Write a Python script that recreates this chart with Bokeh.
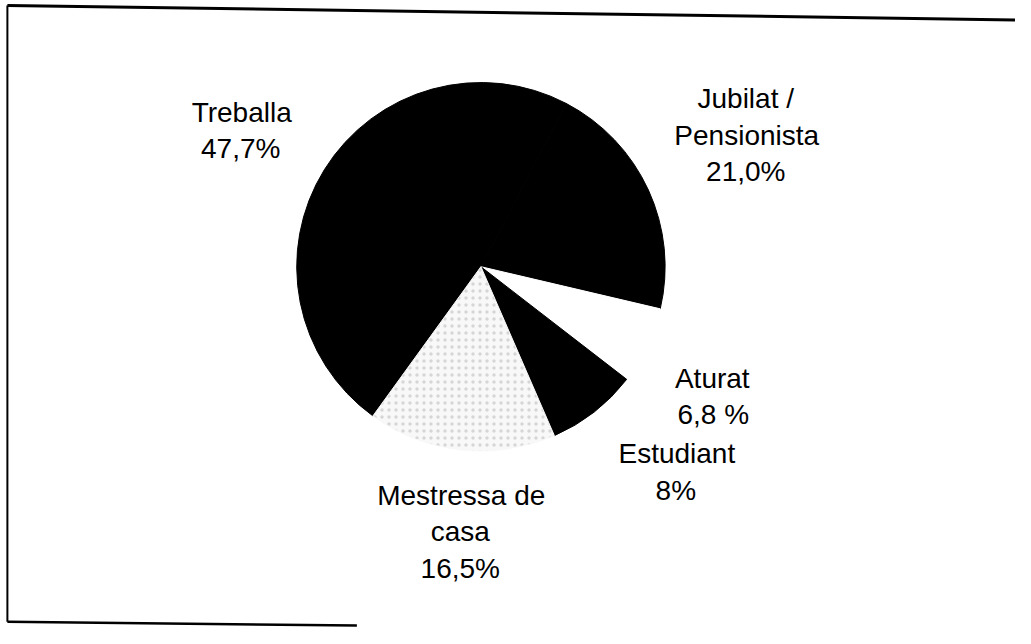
import numpy as np
from bokeh.plotting import figure
from bokeh.models import Range1d, ColumnDataSource
from bokeh.embed import file_html
from bokeh.resources import INLINE
from bokeh.core.properties import value

# ---- data ----
categories = ["Treballa", "Jubilat / Pensionista", "Aturat", "Estudiant", "Mestressa de casa"]
shares = [47.7, 21.0, 6.8, 8.0, 16.5]
label_lines = [
    ["Treballa", "47,7%"],
    ["Jubilat /", "Pensionista", "21,0%"],
    ["Aturat", "6,8 %"],
    ["Estudiant", "8%"],
    ["Mestressa de", "casa", "16,5%"],
]

# ---- style / layout (reference-image pixel geometry) ----
slice_colors = ["#000000", "#000000", "#ffffff", "#000000", "#f8f8f8"]
slice_hatch = [" ", " ", " ", " ", "."]
start_deg = 234.1          # pie starts at Treballa, drawn clockwise
pie_cx, pie_cy, pie_r = 488, 273, 188
# per label line: (center x, baseline y) in reference pixels
label_pos = [
    [(245, 115), (244, 152)],
    [(757, 101), (758, 138), (757, 175)],
    [(723, 388), (724, 425)],
    [(687, 465), (686, 502)],
    [(468, 508), (467, 545), (467, 582)],
]

W, H = 1015, 628
REF_W, REF_H = 1031, 644
sx, sy = W / REF_W, H / REF_H
def X(ix):
    return ix * sx
def Y(iy):
    return H - iy * sy

p = figure(width=W, height=H, x_range=Range1d(0, W), y_range=Range1d(0, H),
           output_backend="svg", toolbar_location=None, min_border=0)
p.axis.visible = False
p.grid.visible = False
p.outline_line_color = None
p.background_fill_color = "white"
p.border_fill_color = "white"

# ---- pie ----
vals = np.array(shares, dtype=float)
frac = vals / vals.sum()
cum = np.concatenate([[0.0], np.cumsum(frac)])
a0 = np.deg2rad(start_deg)
starts = a0 - 2 * np.pi * cum[:-1]
ends = a0 - 2 * np.pi * cum[1:]
src = ColumnDataSource(dict(
    cat=categories, start=starts, end=ends,
    x=[X(pie_cx)] * len(vals), y=[Y(pie_cy)] * len(vals),
    color=slice_colors, hatch=slice_hatch,
))
p.wedge(x="x", y="y", radius=pie_r * (sx + sy) / 2, start_angle="start", end_angle="end",
        direction="clock", fill_color="color", line_color="color", line_width=1,
        hatch_pattern="hatch", hatch_color="#c8c8c8", hatch_scale=7,
        hatch_weight=1, hatch_alpha=0.7, source=src)

# ---- labels ----
tx, ty, tt = [], [], []
for lines, poss in zip(label_lines, label_pos):
    for t, (ix, iy) in zip(lines, poss):
        tx.append(X(ix)); ty.append(Y(iy)); tt.append(t)
p.text(x=tx, y=ty, text=tt, text_align="center", text_baseline="alphabetic",
       text_font=value("Liberation Sans"), text_font_size="28px", text_color="#000000")

# ---- scanned frame ----
p.line([X(7), X(1031)], [Y(5), Y(20)], line_color="black", line_width=3)
p.line([X(7), X(7)], [Y(5), Y(637)], line_color="black", line_width=2)
p.line([X(7), X(362)], [Y(637), Y(641)], line_color="black", line_width=2.5)

open("out.html", "w").write(file_html(p, INLINE))
